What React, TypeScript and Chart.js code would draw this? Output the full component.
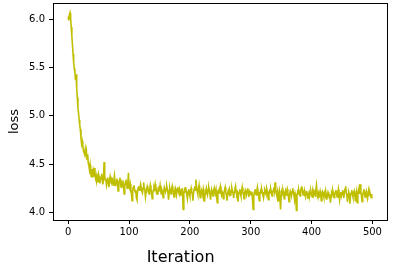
import React, { useEffect, useRef } from 'react';
import { Chart, registerables } from 'chart.js';

Chart.register(...registerables);

// loss per iteration
const lossValues: number[] = [
  6.03, 5.99, 6.05, 6.07, 6.01, 5.92, 5.83, 5.74, 5.64, 5.55,
  5.49, 5.45, 5.37, 5.43, 5.28, 5.19, 5.08, 5.03, 4.96, 4.90,
  4.86, 4.77, 4.71, 4.74, 4.69, 4.64, 4.62, 4.60, 4.65, 4.58,
  4.63, 4.55, 4.60, 4.51, 4.48, 4.44, 4.49, 4.41, 4.37, 4.45,
  4.36, 4.42, 4.37, 4.46, 4.39, 4.35, 4.38, 4.33, 4.36, 4.31,
  4.39, 4.36, 4.30, 4.34, 4.37, 4.40, 4.33, 4.29, 4.35, 4.52,
  4.38, 4.33, 4.35, 4.28, 4.31, 4.36, 4.32, 4.26, 4.33, 4.37,
  4.34, 4.30, 4.36, 4.32, 4.28, 4.33, 4.38, 4.31, 4.27, 4.32,
  4.35, 4.31, 4.22, 4.30, 4.33, 4.36, 4.29, 4.31, 4.25, 4.30,
  4.33, 4.28, 4.19, 4.27, 4.31, 4.34, 4.29, 4.25, 4.30, 4.41,
  4.27, 4.25, 4.29, 4.24, 4.19, 4.12, 4.22, 4.26, 4.28, 4.24,
  4.21, 4.23, 4.15, 4.13, 4.22, 4.25, 4.27, 4.23, 4.24, 4.29,
  4.26, 4.22, 4.20, 4.24, 4.31, 4.25, 4.23, 4.16, 4.21, 4.24,
  4.27, 4.25, 4.22, 4.19, 4.23, 4.28, 4.24, 4.21, 4.14, 4.20,
  4.23, 4.26, 4.24, 4.29, 4.25, 4.21, 4.23, 4.18, 4.22, 4.25,
  4.24, 4.28, 4.22, 4.19, 4.23, 4.21, 4.15, 4.22, 4.26, 4.24,
  4.21, 4.23, 4.27, 4.24, 4.20, 4.13, 4.21, 4.25, 4.22, 4.19,
  4.24, 4.27, 4.23, 4.21, 4.16, 4.22, 4.25, 4.22, 4.18, 4.23,
  4.26, 4.22, 4.20, 4.24, 4.21, 4.17, 4.23, 4.25, 4.20, 4.03,
  4.19, 4.23, 4.21, 4.26, 4.22, 4.18, 4.14, 4.21, 4.24, 4.20,
  4.17, 4.22, 4.25, 4.21, 4.19, 4.12, 4.20, 4.24, 4.27, 4.23,
  4.34, 4.26, 4.22, 4.19, 4.24, 4.28, 4.21, 4.15, 4.20, 4.23,
  4.21, 4.18, 4.24, 4.20, 4.11, 4.19, 4.22, 4.25, 4.21, 4.18,
  4.22, 4.26, 4.23, 4.19, 4.13, 4.20, 4.23, 4.21, 4.17, 4.22,
  4.25, 4.21, 4.19, 4.23, 4.16, 4.10, 4.19, 4.22, 4.20, 4.24,
  4.27, 4.22, 4.18, 4.21, 4.19, 4.14, 4.20, 4.23, 4.26, 4.21,
  4.18, 4.12, 4.19, 4.22, 4.20, 4.24, 4.21, 4.17, 4.22, 4.25,
  4.22, 4.19, 4.15, 4.21, 4.24, 4.27, 4.22, 4.18, 4.20, 4.11,
  4.18, 4.21, 4.24, 4.20, 4.17, 4.22, 4.26, 4.21, 4.19, 4.14,
  4.20, 4.23, 4.21, 4.18, 4.22, 4.25, 4.20, 4.16, 4.21, 4.19,
  4.22, 4.18, 4.21, 4.13, 4.03, 4.17, 4.21, 4.24, 4.20, 4.18,
  4.22, 4.26, 4.21, 4.17, 4.12, 4.19, 4.22, 4.20, 4.24, 4.21,
  4.18, 4.15, 4.20, 4.23, 4.21, 4.19, 4.25, 4.22, 4.18, 4.13,
  4.19, 4.22, 4.20, 4.24, 4.21, 4.17, 4.20, 4.23, 4.26, 4.22,
  4.31, 4.24, 4.20, 4.17, 4.21, 4.12, 4.18, 4.22, 4.15, 4.03,
  4.17, 4.21, 4.19, 4.23, 4.20, 4.14, 4.19, 4.22, 4.18, 4.21,
  4.24, 4.20, 4.16, 4.11, 4.19, 4.22, 4.20, 4.17, 4.21, 4.25,
  4.21, 4.18, 4.13, 4.19, 4.16, 4.02, 4.17, 4.21, 4.19, 4.23,
  4.20, 4.17, 4.22, 4.25, 4.27, 4.21, 4.18, 4.20, 4.23, 4.19,
  4.16, 4.20, 4.22, 4.18, 4.14, 4.19, 4.21, 4.17, 4.20, 4.22,
  4.19, 4.16, 4.21, 4.18, 4.22, 4.20, 4.17, 4.23, 4.28, 4.21,
  4.18, 4.20, 4.15, 4.19, 4.22, 4.18, 4.12, 4.17, 4.21, 4.19,
  4.16, 4.20, 4.18, 4.22, 4.17, 4.13, 4.18, 4.21, 4.19, 4.15,
  4.19, 4.10, 4.16, 4.20, 4.18, 4.22, 4.19, 4.15, 4.18, 4.21,
  4.23, 4.19, 4.16, 4.20, 4.24, 4.18, 4.13, 4.19, 4.21, 4.17,
  4.20, 4.23, 4.19, 4.15, 4.21, 4.24, 4.27, 4.20, 4.17, 4.11,
  4.18, 4.21, 4.19, 4.09, 4.17, 4.20, 4.23, 4.19, 4.16, 4.20,
  4.22, 4.18, 4.12, 4.17, 4.21, 4.10, 4.18, 4.22, 4.25, 4.19,
  4.29, 4.21, 4.17, 4.11, 4.18, 4.21, 4.24, 4.19, 4.16, 4.20,
  4.22, 4.17, 4.14, 4.19, 4.21, 4.18, 4.20, 4.17, 4.15, 4.19,
];

const iterations: number[] = lossValues.map((_, i) => i);
const xTickValues: number[] = [0, 100, 200, 300, 400, 500];
const yTickValues: number[] = [4.0, 4.5, 5.0, 5.5, 6.0];
const xAxisLabel = 'Iteration';
const yAxisLabel = 'loss';

const LINE_COLOR = '#bfbf00';
const TEXT_COLOR = '#000000';
const FONT_FAMILY = '"DejaVu Sans", sans-serif';

export default function App() {
  const canvasRef = useRef<HTMLCanvasElement | null>(null);

  useEffect(() => {
    const canvas = canvasRef.current;
    if (!canvas) return;

    const framePlugin = {
      id: 'mplFrame',
      afterDraw(chart: any) {
        const { ctx, chartArea } = chart;
        const { left, top, right, bottom } = chartArea;
        ctx.save();
        ctx.strokeStyle = '#000000';
        ctx.lineWidth = 1;
        ctx.strokeRect(left + 0.5, top + 0.5, right - left, bottom - top);

        ctx.fillStyle = TEXT_COLOR;
        ctx.font = `16px ${FONT_FAMILY}`;
        ctx.textAlign = 'center';
        ctx.textBaseline = 'alphabetic';
        ctx.fillText(xAxisLabel, left + (right - left) * 0.382, bottom + 41.5);

        ctx.font = `13px ${FONT_FAMILY}`;
        ctx.translate(18, top + (bottom - top) * 0.546);
        ctx.rotate(-Math.PI / 2);
        ctx.fillText(yAxisLabel, 0, 0);
        ctx.restore();
      },
    };

    const chart = new Chart(canvas, {
      type: 'line',
      data: {
        datasets: [
          {
            data: lossValues.map((y, i) => ({ x: iterations[i], y })),
            borderColor: LINE_COLOR,
            backgroundColor: LINE_COLOR,
            borderWidth: 1.6,
            pointRadius: 0,
            tension: 0,
            fill: false,
          },
        ],
      },
      options: {
        animation: false,
        responsive: false,
        devicePixelRatio: 1,
        layout: { padding: { left: 0, top: 3, right: 8, bottom: 0 } },
        plugins: {
          legend: { display: false },
          tooltip: { enabled: false },
          title: { display: false },
        },
        scales: {
          x: {
            type: 'linear',
            min: -24.95,
            max: 523.95,
            afterFit: (scale: any) => {
              scale.height = 50;
              scale.paddingLeft = 0;
              scale.paddingRight = 0;
            },
            afterBuildTicks: (scale: any) => {
              scale.ticks = xTickValues.map((v) => ({ value: v }));
            },
            grid: {
              display: true,
              drawOnChartArea: false,
              drawTicks: true,
              tickLength: 4,
              tickColor: '#000000',
              color: '#000000',
            },
            border: { display: false },
            ticks: {
              autoSkip: false,
              maxRotation: 0,
              padding: 2,
              color: TEXT_COLOR,
              font: { family: FONT_FAMILY, size: 10 },
              callback: (v: any) => String(v),
            },
          },
          y: {
            type: 'linear',
            min: 3.92,
            max: 6.17,
            afterFit: (scale: any) => {
              scale.width = 53;
              scale.paddingTop = 0;
              scale.paddingBottom = 0;
            },
            afterBuildTicks: (scale: any) => {
              scale.ticks = yTickValues.map((v) => ({ value: v }));
            },
            grid: {
              display: true,
              drawOnChartArea: false,
              drawTicks: true,
              tickLength: 4,
              tickColor: '#000000',
              color: '#000000',
            },
            border: { display: false },
            ticks: {
              autoSkip: false,
              padding: 4,
              color: TEXT_COLOR,
              font: { family: FONT_FAMILY, size: 10 },
              callback: (v: any) => Number(v).toFixed(1),
            },
          },
        },
      },
      plugins: [framePlugin],
    });

    return () => {
      chart.destroy();
    };
  }, []);

  return (
    <div style={{ position: 'absolute', left: 0, top: 0, width: 395, height: 270, background: '#ffffff' }}>
      <canvas ref={canvasRef} width={395} height={270} style={{ display: 'block', width: 395, height: 270 }} />
    </div>
  );
}
